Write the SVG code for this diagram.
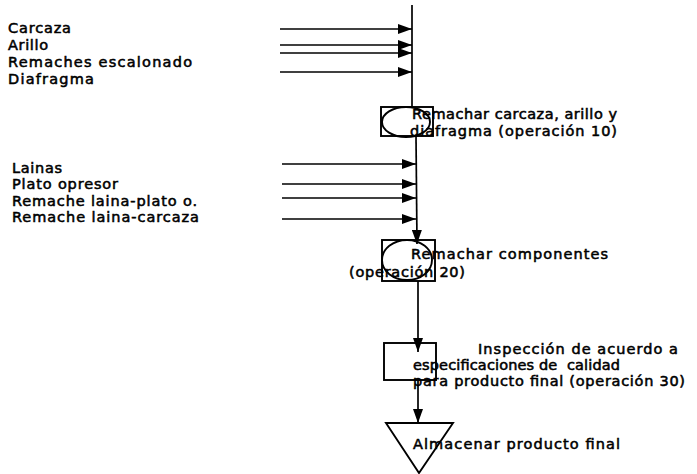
<svg xmlns="http://www.w3.org/2000/svg" width="697" height="474" viewBox="0 0 697 474">
<style>
text { font-family: "DejaVu Sans", Verdana, sans-serif; font-size: 14.5px; fill: #000; stroke: #000; stroke-width: 0.55; }
.ln { stroke: #000; stroke-width: 1.7; fill: none; }
.sh { stroke: #000; stroke-width: 1.9; fill: none; }
</style>
<defs>
<marker id="ah" viewBox="0 0 14 10" refX="14" refY="5" markerWidth="14" markerHeight="10" markerUnits="userSpaceOnUse" orient="auto">
<path d="M0,0 L14,5 L0,10 Z" fill="#000"/>
</marker>
</defs>
<rect width="697" height="474" fill="#fff"/>
<g id="inputs-1">
<text x="8" y="33" textLength="63">Carcaza</text>
<text x="8" y="50" textLength="40">Arillo</text>
<text x="8" y="67" textLength="184">Remaches escalonado</text>
<text x="8" y="84" textLength="86">Diafragma</text>
</g>
<g id="inputs-2">
<text x="12" y="173" textLength="50">Lainas</text>
<text x="12" y="189" textLength="106">Plato opresor</text>
<text x="12" y="206" textLength="185">Remache laina-plato o.</text>
<text x="12" y="222" textLength="187">Remache laina-carcaza</text>
</g>
<g id="connectors">
<line class="ln" x1="412" y1="5" x2="412" y2="107"/>
<line class="ln" x1="280" y1="29" x2="412" y2="29" marker-end="url(#ah)"/>
<line class="ln" x1="280" y1="45" x2="412" y2="45" marker-end="url(#ah)"/>
<line class="ln" x1="280" y1="53" x2="412" y2="53" marker-end="url(#ah)"/>
<line class="ln" x1="280" y1="72" x2="412" y2="72" marker-end="url(#ah)"/>
<line class="ln" x1="416" y1="136" x2="417" y2="244" marker-end="url(#ah)"/>
<line class="ln" x1="282" y1="164" x2="416" y2="164" marker-end="url(#ah)"/>
<line class="ln" x1="282" y1="184" x2="416" y2="184" marker-end="url(#ah)"/>
<line class="ln" x1="282" y1="198" x2="416" y2="198" marker-end="url(#ah)"/>
<line class="ln" x1="282" y1="219" x2="416" y2="219" marker-end="url(#ah)"/>
<line class="ln" x1="418" y1="281" x2="418" y2="352" marker-end="url(#ah)"/>
<line class="ln" x1="418" y1="380" x2="418" y2="423" marker-end="url(#ah)"/>
</g>
<g id="op10">
<rect class="sh" x="381" y="107" width="52" height="29"/>
<ellipse class="sh" cx="406" cy="122" rx="24" ry="15"/>
<text x="412" y="119" textLength="205">Remachar carcaza, arillo y</text>
<text x="410" y="136" textLength="207">diafragma (operación 10)</text>
</g>
<g id="op20">
<rect class="sh" x="382" y="240" width="53" height="41"/>
<ellipse class="sh" cx="407" cy="260" rx="25" ry="20"/>
<text x="411" y="259" textLength="197">Remachar componentes</text>
<text x="349" y="277" textLength="116">(operación 20)</text>
</g>
<g id="op30">
<rect class="sh" x="384" y="343" width="52" height="37"/>
<text x="478" y="354" textLength="200">Inspección de acuerdo a</text>
<text x="413" y="370" textLength="207" xml:space="preserve">especificaciones de  calidad</text>
<text x="413" y="386" textLength="272">para producto final (operación 30)</text>
</g>
<g id="store">
<polygon class="sh" points="386,423 453,423 419,473"/>
<text x="413" y="449" textLength="207">Almacenar producto final</text>
</g>
</svg>
